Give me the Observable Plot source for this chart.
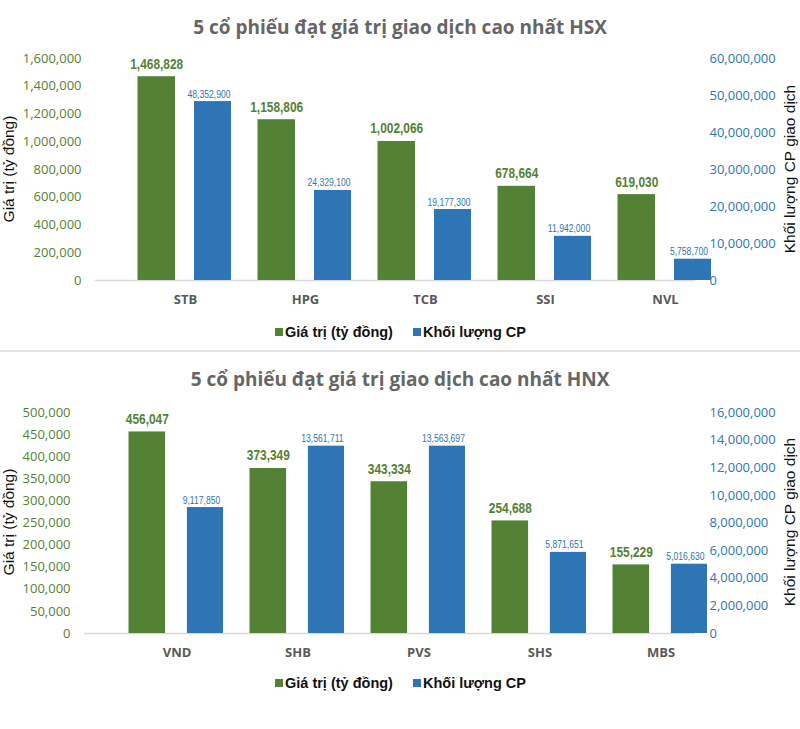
<!DOCTYPE html>
<html>
<head>
<meta charset="utf-8">
<script src="https://cdn.jsdelivr.net/npm/d3@7"></script>
<script src="https://cdn.jsdelivr.net/npm/@observablehq/plot@0.6"></script>
<style>
  html, body { margin: 0; padding: 0; background: #fff; }
  #page { position: relative; width: 800px; height: 729px; overflow: hidden; background: #fff; }
  .title { position: absolute; left: 0; width: 800px; text-align: center; font-family: "Open Sans", sans-serif; font-weight: 700; font-size: 19px; color: #666; line-height: 1; white-space: nowrap; }
  .chart { position: absolute; left: 0; }
  .ytitle { position: absolute; font-family: "Liberation Sans", Arial, sans-serif; font-size: 15.5px; color: #111; white-space: nowrap; transform: translate(-50%, -50%) rotate(-90deg); line-height: 1; }
  .legend { position: absolute; font-family: "Liberation Sans", Arial, sans-serif; font-weight: 700; font-size: 14.5px; color: #111; white-space: nowrap; display: flex; align-items: center; line-height: 1; }
  .sw { display: inline-block; width: 8px; height: 8px; margin-right: 2px; }
  .divider { position: absolute; left: 0; width: 800px; top: 350px; height: 2px; background: #e3e3e3; }
</style>
</head>
<body>
<div id="page">
  <div class="title" style="top:18px">5 cổ phiếu đạt giá trị giao dịch cao nhất HSX</div>
  <div class="chart" id="c1" style="top:40px"></div>
  <div class="ytitle" style="left:9px; top:169px">Giá trị (tỷ đồng)</div>
  <div class="ytitle" style="left:790px; top:169px">Khối lượng CP giao dịch</div>
  <div class="legend" style="left:275px; top:325px"><span class="sw" style="background:#548235"></span>Giá trị (tỷ đồng)</div>
  <div class="legend" style="left:413px; top:325px"><span class="sw" style="background:#2e75b6"></span>Khối lượng CP</div>
  <div class="divider"></div>
  <div class="title" style="top:370px">5 cổ phiếu đạt giá trị giao dịch cao nhất HNX</div>
  <div class="chart" id="c2" style="top:395px"></div>
  <div class="ytitle" style="left:9px; top:522px">Giá trị (tỷ đồng)</div>
  <div class="ytitle" style="left:790px; top:522px">Khối lượng CP giao dịch</div>
  <div class="legend" style="left:275px; top:676px"><span class="sw" style="background:#548235"></span>Giá trị (tỷ đồng)</div>
  <div class="legend" style="left:413px; top:676px"><span class="sw" style="background:#2e75b6"></span>Khối lượng CP</div>
</div>
<script>
// ---- HSX data ----
const hsxCategories = ["STB", "HPG", "TCB", "SSI", "NVL"];
const hsxValue = [1468828, 1158806, 1002066, 678664, 619030];
const hsxVolume = [48352900, 24329100, 19177300, 11942000, 5758700];
const hsxLeftTicks = [0, 200000, 400000, 600000, 800000, 1000000, 1200000, 1400000, 1600000];
const hsxRightTicks = [0, 10000000, 20000000, 30000000, 40000000, 50000000, 60000000];

// ---- HNX data ----
const hnxCategories = ["VND", "SHB", "PVS", "SHS", "MBS"];
const hnxValue = [456047, 373349, 343334, 254688, 155229];
const hnxVolume = [9117850, 13561711, 13563697, 5871651, 5016630];
const hnxLeftTicks = [0, 50000, 100000, 150000, 200000, 250000, 300000, 350000, 400000, 450000, 500000];
const hnxRightTicks = [0, 2000000, 4000000, 6000000, 8000000, 10000000, 12000000, 14000000, 16000000];

const GREEN = "#548235";
const BLUE = "#2e75b6";
const fmt = d3.format(",");

function makeChart(cfg) {
  const {categories, value, volume, leftTicks, rightTicks, marginLeft, marginTop, marginBottom, xRange} = cfg;
  const leftMax = leftTicks[leftTicks.length - 1];
  const rightMax = rightTicks[rightTicks.length - 1];
  const k = leftMax / rightMax;
  const data = categories.map((c, i) => ({cat: c, value: value[i], volume: volume[i]}));
  const bw = (xRange[1] - xRange[0]) / categories.length;
  const g0 = 12.5, g1 = g0 + 37.5, b0 = bw - 51, b1 = bw - 14;
  return Plot.plot({
    width: 800,
    height: 280,
    marginLeft,
    marginRight: 105,
    marginTop,
    marginBottom,
    style: {background: "transparent", overflow: "visible", fontFamily: "'Open Sans', sans-serif", fontSize: "13px"},
    x: {domain: categories, range: xRange, padding: 0},
    y: {domain: [0, leftMax]},
    marks: [
      Plot.ruleY([0], {stroke: "#d9d9d9", strokeWidth: 1.5}),
      Plot.barY(data, {x: "cat", y: "value", fill: GREEN, insetLeft: g0, insetRight: bw - g1}),
      Plot.barY(data, {x: "cat", y: d => d.volume * k, fill: BLUE, insetLeft: b0, insetRight: bw - b1}),
      Plot.text(data, {x: "cat", y: "value", text: d => fmt(d.value), dx: (g0 + g1) / 2 - bw / 2, dy: -8,
        lineAnchor: "bottom", fill: GREEN, fontWeight: "bold", fontSize: 14,
        fontFamily: "'Liberation Sans', Arial, sans-serif", className: "vlab"}),
      Plot.text(data, {x: "cat", y: d => d.volume * k, text: d => fmt(d.volume), dx: (b0 + b1) / 2 - bw / 2 - 4, dy: -4,
        lineAnchor: "bottom", fill: BLUE, fontSize: 11,
        fontFamily: "'Liberation Sans', Arial, sans-serif", className: "blab"}),
      Plot.axisX({tickSize: 0, tickPadding: 14, label: null, fontWeight: "bold", color: "#595959", fontSize: 13}),
      Plot.axisY({ticks: leftTicks, tickSize: 0, tickPadding: 14, label: null, tickFormat: fmt, color: GREEN, fontSize: 13}),
      Plot.axisY({anchor: "right", ticks: rightTicks.map(v => v * k), tickSize: 0, tickPadding: 14, label: null,
        tickFormat: d => fmt(Math.round(d / k)), color: BLUE, fontSize: 13})
    ]
  });
}

// condense data labels (the reference uses a narrow face)
function condense(root) {
  root.querySelectorAll(".vlab text").forEach(t => {
    const len = t.getComputedTextLength();
    t.setAttribute("textLength", (len * 0.85).toFixed(1));
    t.setAttribute("lengthAdjust", "spacingAndGlyphs");
  });
  root.querySelectorAll(".blab text").forEach(t => {
    const len = t.getComputedTextLength();
    t.setAttribute("textLength", (len * 0.78).toFixed(1));
    t.setAttribute("lengthAdjust", "spacingAndGlyphs");
  });
}

const c1 = document.getElementById("c1");
c1.append(makeChart({
  categories: hsxCategories, value: hsxValue, volume: hsxVolume,
  leftTicks: hsxLeftTicks, rightTicks: hsxRightTicks,
  marginLeft: 95, marginTop: 18, marginBottom: 40, xRange: [124.5, 724.5]
}));
const c2 = document.getElementById("c2");
c2.append(makeChart({
  categories: hnxCategories, value: hnxValue, volume: hnxVolume,
  leftTicks: hnxLeftTicks, rightTicks: hnxRightTicks,
  marginLeft: 84, marginTop: 17, marginBottom: 42, xRange: [113.5, 723]
}));
condense(c1);
condense(c2);
</script>
</body>
</html>
